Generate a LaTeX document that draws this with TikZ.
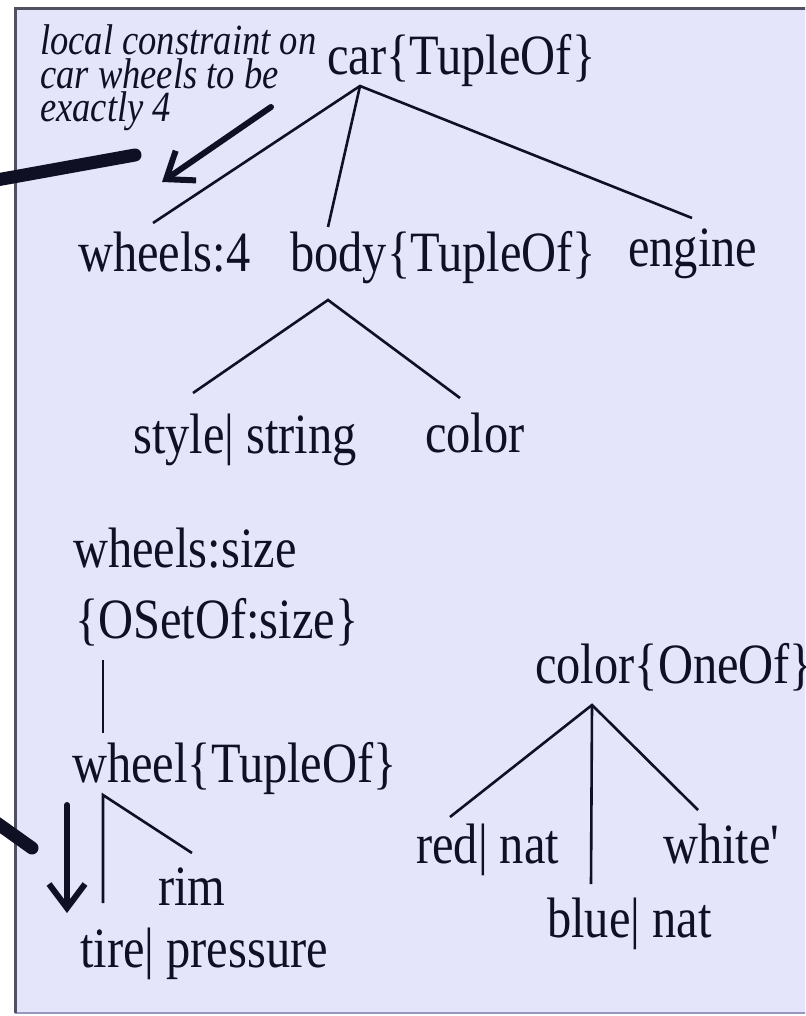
\documentclass[tikz,border=0pt]{standalone}
\usepackage{fontspec}
\setmainfont{Liberation Serif}[FakeStretch=0.85]
\usetikzlibrary{arrows.meta}
\definecolor{panel}{RGB}{228,228,250}
\definecolor{frame}{RGB}{80,80,96}
\definecolor{frameb}{RGB}{150,150,190}
\definecolor{ink}{RGB}{16,16,36}
\begin{document}
\begin{tikzpicture}[x=1pt,y=-1pt,
  label/.style={inner sep=0pt, anchor=base west, text=ink,
    font=\fontsize{57}{68}\selectfont},
  note/.style={inner sep=0pt, anchor=base west, text=ink,
    font=\fontsize{43}{34}\selectfont\itshape},
  branch/.style={draw=ink, line width=2.6pt},
  pointer/.style={draw=ink, line width=6pt, line cap=round,
    -{Straight Barb[length=24pt,width=36pt]}},
  stroke/.style={draw=ink, line width=13pt, line cap=round}]

\useasboundingbox (0,0) rectangle (805,1016);
\clip (0,0) rectangle (805,1016);
\fill[white] (0,0) rectangle (805,1016);

% panel
\fill[panel] (15,9) rectangle (830,1013);
\draw[frameb, line width=2pt] (15,1013) -- (830,1013);
\draw[frame, line width=3pt] (830,9) -- (15,9) -- (15,1013);

% annotation, one line per node
\node[note] (note1) at (40,55) {local constraint on};
\node[note] (note2) at (40,89) {car wheels to be};
\node[note] (note3) at (40,122) {exactly 4};

% car tree
\node[label] (car) at (327,75) {car\{TupleOf\}};
\node[label] (wheels4) at (78,271) {wheels:4};
\node[label] (body) at (290,271) {body\{TupleOf\}};
\node[label] (engine) at (628,266) {engine};
\node[label] (style) at (133,453) {style| string};
\node[label] (color) at (425,452) {color};

\coordinate (carR) at (360,86);
\coordinate (w4T) at (153,223);
\coordinate (bodyT) at (328,227);
\coordinate (engT) at (692,218);
\coordinate (bodyR) at (328,300);
\coordinate (styleT) at (193,393);
\coordinate (colorT) at (460,398);
\draw[branch] (w4T) -- (carR) -- (engT);
\draw[branch] (carR) -- (bodyT);
\draw[branch] (styleT) -- (bodyR) -- (colorT);

% wheel tree
\node[label] (wsize) at (73,567) {wheels:size};
\node[label] (oset) at (75,638) {\{OSetOf:size\}};
\node[label] (wheel) at (72,782) {wheel\{TupleOf\}};
\node[label] (rim) at (158,905) {rim};
\node[label] (tire) at (80,967) {tire| pressure};

\coordinate (osetB) at (103,660);
\coordinate (wheelT) at (103,733);
\coordinate (wheelR) at (103,795);
\coordinate (tireT) at (103,903);
\coordinate (rimT) at (192,853);
\draw[branch] (osetB) -- (wheelT);
\draw[branch] (tireT) -- (wheelR) -- (rimT);

% colour tree
\node[label] (colorof) at (535,683) {color\{OneOf\}};
\node[label] (red) at (416,863) {red| nat};
\node[label] (white) at (663,863) {white\textquotesingle};
\node[label] (blue) at (547,937) {blue| nat};

\coordinate (oneR) at (592,705);
\coordinate (redT) at (450,817);
\coordinate (blueT) at (591,884);
\coordinate (whiteT) at (698,810);
\draw[branch] (redT) -- (oneR) -- (whiteT);
\draw[branch] (oneR) -- (blueT);

% pointers
\coordinate (noteTail) at (271,107);
\coordinate (noteTip) at (162,182);
\draw[pointer] (noteTail) -- (noteTip);
\coordinate (downTail) at (67,805);
\coordinate (downTip) at (67,913);
\draw[pointer] (downTail) -- (downTip);

% heavy strokes entering from the left
\coordinate (topIn) at (-20,183);
\coordinate (topEnd) at (135,155);
\draw[stroke] (topIn) -- (topEnd);
\coordinate (lowIn) at (-20,811);
\coordinate (lowEnd) at (32,848);
\draw[stroke] (lowIn) -- (lowEnd);
\end{tikzpicture}
\end{document}
